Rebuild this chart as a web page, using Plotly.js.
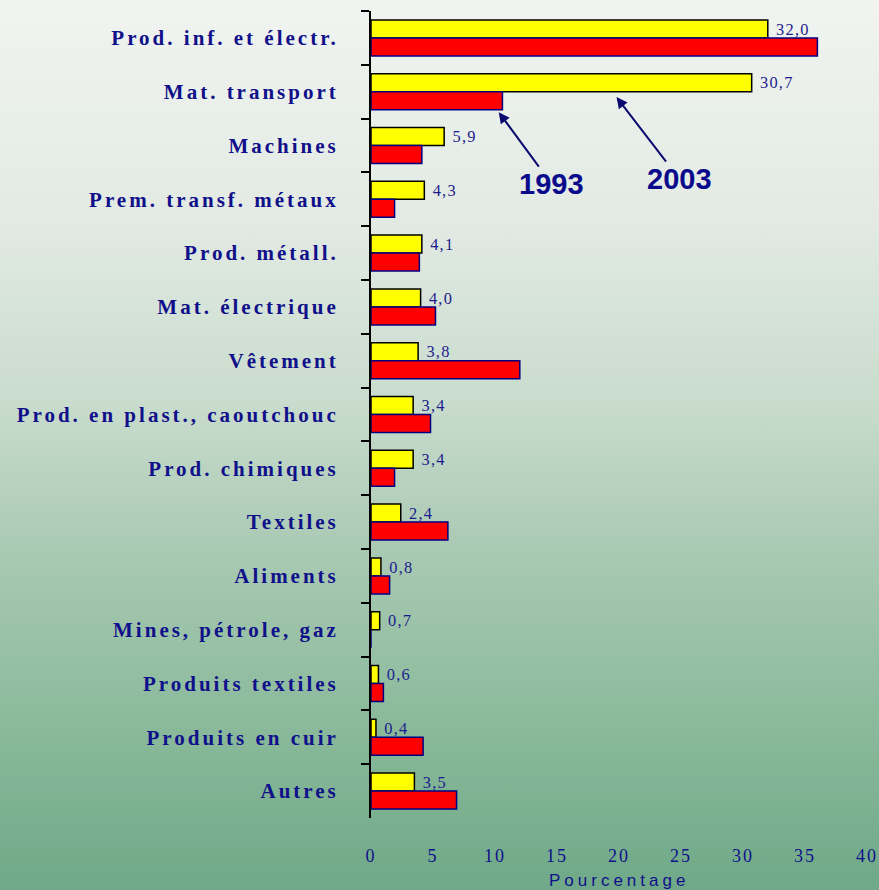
<!DOCTYPE html>
<html>
<head>
<meta charset="utf-8">
<script src="https://cdn.plot.ly/plotly-3.0.1.min.js"></script>
<style>
  html, body { margin: 0; padding: 0; }
  body {
    width: 879px; height: 890px; overflow: hidden;
    background: linear-gradient(to bottom, #f1f4f1 0%, #e2eae3 25%, #c9dccd 45%, #a9c9b3 62%, #8cbb9c 80%, #6fa987 100%);
  }
  #chart { width: 879px; height: 890px; }
  .ytick text { letter-spacing: 3px; }
  .xtick text { letter-spacing: 2px; }
  text.bartext { letter-spacing: 1.5px; }
  .pct text { letter-spacing: 4px; }
</style>
</head>
<body>
<div id="chart"></div>
<script>
const categories = [
  "Prod. inf. et électr.",
  "Mat. transport",
  "Machines",
  "Prem. transf. métaux",
  "Prod. métall.",
  "Mat. électrique",
  "Vêtement",
  "Prod. en plast., caoutchouc",
  "Prod. chimiques",
  "Textiles",
  "Aliments",
  "Mines, pétrole, gaz",
  "Produits textiles",
  "Produits en cuir",
  "Autres"
];
const values2003 = [32.0, 30.7, 5.9, 4.3, 4.1, 4.0, 3.8, 3.4, 3.4, 2.4, 0.8, 0.7, 0.6, 0.4, 3.5];
const values1993 = [36.0, 10.6, 4.1, 1.9, 3.9, 5.2, 12.0, 4.8, 1.9, 6.2, 1.5, 0, 1.0, 4.2, 6.9];
const xTicks = [0, 5, 10, 15, 20, 25, 30, 35, 40];
const xTitle = "Pourcentage";

const navy = "#10108a";

const traces = [
  {
    type: "bar", orientation: "h", name: "2003",
    y: categories, x: values2003,
    marker: { color: "#ffff00", line: { color: "#000000", width: 1.5 } },
    texttemplate: "\u00a0%{x:.1f}", textposition: "outside",
    textfont: { family: "Liberation Serif", size: 20, color: "#1c1c8c" },
    cliponaxis: false, hoverinfo: "x+y"
  },
  {
    type: "bar", orientation: "h", name: "1993",
    y: categories, x: values1993,
    marker: { color: "#ff0000", line: { color: "#000080", width: 1.5 } },
    cliponaxis: false, hoverinfo: "x+y"
  }
];

const layout = {
  width: 879, height: 890,
  margin: { l: 371, r: 12, t: 11, b: 72 },
  paper_bgcolor: "rgba(0,0,0,0)",
  plot_bgcolor: "rgba(0,0,0,0)",
  separators: ", ",
  barmode: "group",
  bargap: 0.33,
  bargroupgap: 0,
  showlegend: false,
  xaxis: {
    range: [0, 40], tickvals: xTicks, ticktext: xTicks.map(String),
    showgrid: false, zeroline: false, showline: false, ticks: "",
    ticklabelstandoff: 25,
    tickfont: { family: "Liberation Serif", size: 18, color: navy },
    fixedrange: true
  },
  yaxis: {
    type: "category", range: [14.5, -0.5], autorange: false,
    showgrid: false, zeroline: false,
    showline: true, linecolor: "#000000", linewidth: 2,
    ticks: "outside", ticklen: 8, tickwidth: 2, tickcolor: "#000000",
    tickson: "boundaries",
    ticklabelstandoff: 26,
    tickfont: { family: "Liberation Serif", size: 21, color: navy, weight: "bold" },
    fixedrange: true
  },
  annotations: [
    {
      x: 10.3, y: 1.38, xref: "x", yref: "y",
      ax: 53, ay: 72, axref: "pixel", ayref: "pixel",
      text: "<b>1993</b>", showarrow: true,
      arrowhead: 2, arrowsize: 1.1, arrowwidth: 2, arrowcolor: "#0a0a6e",
      font: { family: "Liberation Sans", size: 29, color: "#0a0a8c" }
    },
    {
      x: 19.8, y: 1.10, xref: "x", yref: "y",
      ax: 63, ay: 82, axref: "pixel", ayref: "pixel",
      text: "<b>2003</b>", showarrow: true,
      arrowhead: 2, arrowsize: 1.1, arrowwidth: 2, arrowcolor: "#0a0a6e",
      font: { family: "Liberation Sans", size: 29, color: "#0a0a8c" }
    },
    {
      x: 0.5, xref: "paper", y: -0.077, yref: "paper",
      xanchor: "center", yanchor: "middle",
      text: xTitle, showarrow: false,
      font: { family: "Liberation Sans", size: 17, color: navy }
    }
  ]
};

Plotly.newPlot("chart", traces, layout, { displayModeBar: false, staticPlot: true }).then(function () {
  const anns = document.querySelectorAll(".annotation");
  if (anns.length) anns[anns.length - 1].classList.add("pct");
});
</script>
</body>
</html>
